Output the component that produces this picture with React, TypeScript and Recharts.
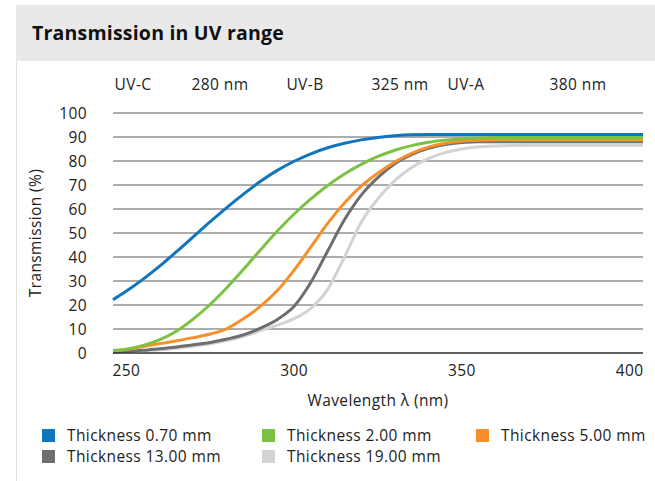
import React from 'react';
import { LineChart, Line, XAxis, YAxis, CartesianGrid, Label } from 'recharts';

const wavelengths = [246, 250, 255, 260, 265, 270, 275, 280, 285, 290, 295, 300, 305, 310, 315, 320, 325, 330, 335, 340, 345, 350, 355, 360, 370, 380, 390, 400, 404];

const t070 = [22.2, 25.8, 30.8, 36.3, 42.3, 48.5, 54.7, 60.7, 66.3, 71.6, 76.1, 79.9, 83, 85.5, 87.4, 88.8, 89.8, 90.5, 90.9, 91, 91, 91, 91, 91, 91, 91, 91, 91, 91];
const t200 = [1, 1.6, 3.2, 5.6, 9.2, 14.2, 20.3, 27.3, 35, 43, 50.8, 57.9, 64.2, 69.8, 74.6, 78.6, 81.9, 84.5, 86.4, 87.8, 88.7, 89.3, 89.6, 89.8, 89.8, 89.8, 89.8, 89.8, 89.8];
const t500 = [1, 1.5, 2.7, 3.9, 5.1, 6.4, 7.9, 10.2, 14.4, 19.5, 26, 34.5, 44.2, 54, 62.5, 69.5, 75, 79.6, 83.2, 85.8, 87.4, 88.2, 88.6, 88.7, 88.7, 88.7, 88.7, 88.7, 88.7];
const t1300 = [0.3, 0.7, 1.1, 1.8, 2.5, 3.4, 4.4, 5.8, 7.6, 10.4, 14, 19.5, 29.5, 42.5, 55.5, 65.8, 73.2, 78.9, 82.7, 85.3, 86.9, 87.7, 88, 88, 88, 88, 88, 88, 88];
const t1900 = [0.2, 0.4, 0.8, 1.3, 2, 2.8, 3.8, 5.2, 7, 9.3, 11.6, 14.3, 18.6, 26.5, 40, 54.5, 64.3, 71.8, 77.3, 81, 83.5, 85, 85.9, 86.3, 86.6, 86.6, 86.6, 86.6, 86.6];

const xTicks = [250, 300, 350, 400];
const yTicks = [0, 10, 20, 30, 40, 50, 60, 70, 80, 90, 100];

const bandLabels = ['UV-C', '280 nm', 'UV-B', '325 nm', 'UV-A', '380 nm'];
const bandLabelX = [133, 220, 305, 400, 466, 578];

const series = [
  { key: 't1900', name: 'Thickness 19.00 mm', color: '#d1d3d4', values: t1900 },
  { key: 't1300', name: 'Thickness 13.00 mm', color: '#6d6e71', values: t1300 },
  { key: 't500', name: 'Thickness 5.00 mm', color: '#f7902a', values: t500 },
  { key: 't200', name: 'Thickness 2.00 mm', color: '#7cc242', values: t200 },
  { key: 't070', name: 'Thickness 0.70 mm', color: '#0f75bc', values: t070 },
];

const legendOrder = ['t070', 't200', 't500', 't1300', 't1900'];

const data = wavelengths.map((w, i) => {
  const row: Record<string, number> = { w };
  series.forEach((s) => (row[s.key] = s.values[i]));
  return row;
});

const font = '"Open Sans", sans-serif';
const textColor = '#222';
const txt = { fill: textColor, fontSize: 15.5, fontFamily: font, letterSpacing: 0.4 };

export default function App() {
  return (
    <div style={{ position: 'absolute', left: 0, top: 0, width: 655, height: 481, background: '#fff', fontFamily: font, overflow: 'hidden' }}>
      <div style={{ position: 'absolute', left: 16, top: 5, right: 0, height: 56, background: '#e9e9e9' }} />
      <div style={{ position: 'absolute', left: 16, top: 61, width: 1, bottom: 0, background: '#e0e0e0' }} />
      <div style={{ position: 'absolute', left: 32, top: 19, fontSize: 19.5, fontWeight: 700, color: '#111', lineHeight: '28px', letterSpacing: 0.2 }}>
        Transmission in UV range
      </div>
      {bandLabels.map((t, i) => (
        <div key={t} style={{ position: 'absolute', left: bandLabelX[i] - 40, width: 80, top: 74, textAlign: 'center', fontSize: 15.5, letterSpacing: 0.4, color: textColor, lineHeight: '20px' }}>
          {t}
        </div>
      ))}
      <div style={{ position: 'absolute', left: 0, top: 0 }}>
        <LineChart width={655} height={420} data={data} margin={{ top: 113, right: 12, bottom: 0, left: 0 }}>
          <CartesianGrid vertical={false} stroke="#5a5a5a" strokeWidth={1} />
          <XAxis
            dataKey="w"
            type="number"
            domain={[246, 404]}
            ticks={xTicks}
            height={67}
            tickSize={0}
            tickMargin={12}
            axisLine={{ stroke: '#111', strokeWidth: 1 }}
            tick={txt}
          >
            <Label value="Wavelength λ (nm)" position="insideBottom" offset={14} style={txt} />
          </XAxis>
          <YAxis
            type="number"
            domain={[0, 100]}
            ticks={yTicks}
            width={113}
            tickSize={0}
            tickMargin={26}
            axisLine={false}
            interval={0}
            tick={txt}
          >
            <Label value="Transmission (%)" angle={-90} position="insideLeft" offset={35} style={{ ...txt, textAnchor: 'middle' }} />
          </YAxis>
          {series.map((s) => (
            <Line key={s.key} dataKey={s.key} name={s.name} type="monotone" stroke={s.color} strokeWidth={3} dot={false} isAnimationActive={false} />
          ))}
        </LineChart>
      </div>
      {legendOrder.map((k, i) => {
        const s = series.find((x) => x.key === k)!;
        const col = i % 3;
        const row = Math.floor(i / 3);
        const left = [42, 262, 476][col];
        return (
          <div key={k} style={{ position: 'absolute', left, top: 426 + row * 21, display: 'flex', alignItems: 'center', fontSize: 15.5, letterSpacing: 0.4, color: textColor, lineHeight: '18px', whiteSpace: 'nowrap' }}>
            <span style={{ display: 'inline-block', width: 13, height: 13, background: s.color, marginRight: 12 }} />
            {s.name}
          </div>
        );
      })}
    </div>
  );
}
